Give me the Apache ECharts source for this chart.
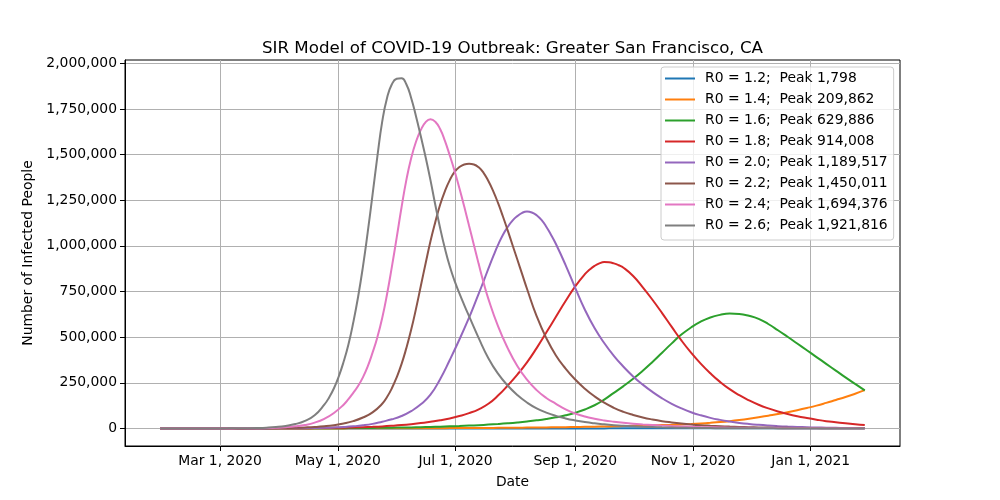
<!DOCTYPE html>
<html>
<head>
<meta charset="utf-8">
<script src="https://cdn.jsdelivr.net/npm/echarts@6/dist/echarts.min.js"></script>
<style>
html,body{margin:0;padding:0;background:#ffffff;}
#chart{width:1000px;height:500px;}
</style>
</head>
<body>
<div id="chart"></div>
<script>
// ---------------- data ----------------
const titleText = 'SIR Model of COVID-19 Outbreak: Greater San Francisco, CA';
const xAxisName = 'Date';
const yAxisName = 'Number of Infected People';
const startDate = '2020-01-30';   // day 0 of the simulation

const r0Values = [1.2, 1.4, 1.6, 1.8, 2.0, 2.2, 2.4, 2.6];
const peakValues = [1798, 209862, 629886, 914008, 1189517, 1450011, 1694376, 1921816];
const seriesColors = ['#1f77b4','#ff7f0e','#2ca02c','#d62728','#9467bd','#8c564b','#e377c2','#7f7f7f'];

// [day offset, infected people]
const curveR12 = [[0,30],[5,32],[10,34],[15,36],[20,38],[25,40],[30,42],[35,44],[40,47],[45,50],[50,53],[55,56],[60,59],[65,63],[70,67],[75,71],[80,75],[85,80],[90,85],[95,90],
  [100,95],[105,101],[110,107],[115,113],[120,120],[125,127],[130,135],[135,143],[140,151],[145,160],[150,170],[155,180],[160,190],[165,202],[170,214],[175,226],[180,240],[185,254],[190,269],[195,285],
  [200,302],[205,320],[210,339],[215,359],[220,380],[225,403],[230,427],[235,452],[240,479],[245,508],[250,538],[255,570],[260,604],[265,640],[270,678],[275,718],[280,761],[285,806],[290,854],[295,905],
  [300,959],[305,1016],[310,1077],[315,1141],[320,1209],[325,1281],[330,1357],[335,1438],[340,1523],[345,1614],[350,1700],[355,1760],[360,1790],[365,1798]];

const curveR14 = [[0,30],[5,35],[10,40],[15,46],[20,53],[25,61],[30,70],[35,80],[40,92],[45,106],[50,122],[55,140],[60,160],[65,185],[70,212],[75,244],[80,280],[85,322],[90,370],[95,425],
  [100,488],[105,560],[110,640],[115,735],[120,840],[125,960],[130,1100],[135,1250],[140,1420],[145,1610],[150,1820],[155,2060],[160,2320],[165,2610],[170,2930],[175,3290],[180,3690],[185,4130],[190,4620],[195,5160],
  [200,5750],[205,6400],[210,7120],[215,7900],[220,8750],[225,9700],[230,10700],[235,11800],[240,13000],[245,14300],[250,15700],[255,17000],[260,18500],[265,20100],[270,22000],[275,24500],[280,27500],[285,31000],[290,35000],[295,40000],
  [300,46000],[305,53000],[310,61000],[315,70000],[320,79000],[325,89000],[330,100000],[335,112000],[340,125000],[345,140000],[350,156000],[355,172000],[360,190000],[365,209862]];

const curveR16 = [[0,70],[5,83],[10,98],[15,116],[20,138],[25,164],[30,195],[35,232],[40,275],[45,326],[50,387],[55,460],[60,545],[65,647],[70,768],[75,910],[80,1080],[85,1280],[90,1520],[95,1800],
  [100,2140],[105,2530],[110,3000],[115,3550],[120,4200],[125,4980],[130,5900],[135,7000],[140,8300],[145,9800],[150,11500],[155,13400],[160,15600],[165,18100],[170,21000],[175,24300],[180,28200],[185,32800],[190,38200],[195,44500],
  [200,52000],[205,61000],[210,72000],[215,86000],[220,104000],[225,127000],[230,158000],[235,195000],[240,232000],[245,272000],[250,316000],[255,364000],[260,415000],[265,466000],[270,514000],[275,553000],[280,585000],[285,608000],[290,622000],[295,629000],
  [300,627000],[305,617000],[310,600000],[315,572000],[320,538000],[325,502000],[330,465000],[335,428000],[340,391000],[345,354000],[350,317000],[355,280000],[360,244000],[365,208500]];

const curveR18 = [[0,37],[5,47],[10,60],[15,77],[20,100],[25,128],[30,163],[35,210],[40,270],[45,345],[50,440],[55,565],[60,720],[65,920],[70,1180],[75,1500],[80,1950],[85,2500],[90,3200],[95,4100],
  [100,5300],[105,6800],[110,8700],[115,11200],[120,14500],[125,18500],[130,23500],[135,29500],[140,37000],[145,45000],[150,55000],[155,68000],[160,84000],[165,105000],[170,135000],[175,180000],[180,235000],[185,295000],[190,362000],[195,440000],
  [200,525000],[205,612000],[210,698000],[215,778000],[220,845000],[222.5,870000],[225,890000],[227.5,904000],[230,911000],[232.5,910000],[235,904000],[237.5,894000],[240,880000],[245,835000],[250,773000],[255,705000],[260,632000],[265,556000],[270,482000],[275,415000],
  [280,355000],[285,302000],[290,255000],[295,215000],[300,182000],[305,154000],[310,130000],[315,110000],[320,93000],[325,79000],[330,67000],[335,57000],[340,48000],[345,40000],[350,34000],[355,28000],[360,23000],[365,19000]];

const curveR20 = [[0,7],[5,10],[10,14],[15,21],[20,30],[25,44],[30,64],[35,93],[40,135],[45,195],[50,280],[55,410],[60,590],[65,860],[70,1250],[75,1800],[80,2600],[85,3800],[90,5500],[95,8000],
  [100,11700],[105,17000],[110,25000],[115,37000],[120,50000],[125,68000],[130,95000],[135,132000],[140,185000],[145,270000],[150,375000],[155,487000],[160,607000],[162.5,672000],[165,738000],[167.5,806000],[170,875000],[172.5,942000],[175,1005000],[177.5,1060000],
  [180,1103000],[182.5,1138000],[185,1163000],[187.5,1181000],[190,1188000],[192.5,1183000],[195,1168000],[197.5,1142000],[200,1105000],[202.5,1060000],[205,1010000],[210,895000],[215,770000],[220,650000],[225,550000],[230,468000],[235,398000],[240,338000],[245,285000],[250,240000],
  [255,200000],[260,165000],[265,135000],[270,110000],[275,89000],[280,72000],[285,58000],[290,47000],[295,38000],[300,30500],[305,24500],[310,19700],[315,15800],[320,12700],[325,10200],[330,8200],[335,6600],[340,5300],[345,4300],[350,3500],[355,2800],[360,2300],[365,1850]];

const curveR22 = [[0,14],[5,20],[10,30],[15,45],[20,67],[25,100],[30,150],[35,220],[40,330],[45,490],[50,730],[55,1100],[60,1600],[65,2400],[70,3600],[75,5400],[80,8000],[85,12000],[90,18000],[95,27000],
  [100,40000],[105,60000],[110,88000],[115,135000],[117.5,172000],[120,220000],[122.5,280000],[125,352000],[127.5,440000],[130,540000],[132.5,655000],[135,780000],[137.5,905000],[140,1025000],[142.5,1130000],[145,1225000],[147.5,1300000],[150,1360000],[152.5,1405000],[155,1432000],
  [157.5,1446000],[160,1450000],[162.5,1446000],[165,1430000],[167.5,1400000],[170,1355000],[172.5,1300000],[175,1235000],[177.5,1162000],[180,1085000],[182.5,1005000],[185,925000],[187.5,845000],[190,765000],[195,615000],[200,495000],[205,400000],[210,328000],[215,268000],[220,218000],
  [225,176000],[230,141000],[235,113000],[240,91000],[245,74000],[250,60000],[255,49000],[260,40000],[265,33000],[270,27000],[275,22000],[280,18000],[285,15000],[290,12500],[295,10300],[300,8500],[305,7000],[310,5800],[315,4800],[320,4000],
  [325,3300],[330,2700],[335,2250],[340,1850],[345,1550],[350,1280],[355,1060],[360,880],[365,730]];

const curveR24 = [[0,8],[5,13],[10,22],[15,38],[20,63],[25,105],[30,180],[35,300],[40,500],[45,850],[50,1400],[55,2400],[60,4000],[65,6800],[70,11500],[75,19000],[80,32000],[85,53000],[90,85000],[95,130000],
  [97.5,160000],[100,195000],[102.5,232000],[105,280000],[107.5,340000],[110,415000],[112.5,500000],[115,605000],[117.5,735000],[120,885000],[122.5,1045000],[125,1210000],[127.5,1360000],[130,1480000],[132.5,1570000],[135,1635000],[137.5,1678000],[140,1694000],[142.5,1680000],[145,1640000],
  [147.5,1575000],[150,1495000],[152.5,1410000],[155,1315000],[157.5,1215000],[160,1110000],[162.5,1005000],[165,900000],[167.5,800000],[170,710000],[175,560000],[180,440000],[185,342000],[190,267000],[195,210000],[200,167000],[205,135000],[210,105000],[215,82000],[220,65000],
  [225,53000],[230,44000],[235,37000],[240,31000],[245,26000],[250,22000],[255,18500],[260,15500],[265,13000],[270,11000],[275,9200],[280,7700],[285,6500],[290,5400],[295,4500],[300,3800],[305,3200],[310,2650],[315,2200],[320,1850],
  [325,1550],[330,1300],[335,1100],[340,900],[345,760],[350,640],[355,530],[360,450],[365,370]];

const curveR26 = [[0,10],[5,17],[10,30],[15,53],[20,92],[25,160],[30,280],[35,490],[40,850],[45,1500],[50,2600],[55,4500],[60,8000],[65,14000],[70,24000],[75,42000],[80,72000],[85,130000],[87.5,170000],[90,220000],
  [92.5,285000],[95,365000],[97.5,460000],[100,580000],[102.5,720000],[105,885000],[107.5,1075000],[110,1280000],[112.5,1490000],[115,1680000],[117.5,1810000],[120,1885000],[122.5,1915000],[125,1918000],[127.5,1885000],[130,1810000],[132.5,1710000],[135,1600000],[137.5,1485000],[140,1360000],
  [142.5,1225000],[145,1098000],[147.5,985000],[150,888000],[152.5,808000],[155,740000],[157.5,676000],[160,615000],[165,495000],[170,385000],[175,300000],[180,235000],[185,183000],[190,142000],[195,110000],[200,87000],[205,69000],[210,55000],[215,44000],[220,35000],
  [225,28000],[230,22500],[235,18000],[240,14500],[245,11700],[250,9400],[255,7600],[260,6100],[265,4900],[270,3900],[275,3100],[280,2500],[285,2000],[290,1600],[295,1300],[300,1000],[305,800],[310,650],[315,520],[320,420],
  [325,340],[330,270],[335,220],[340,175],[345,140],[350,110],[355,90],[360,72],[365,58]];

const xTickDates = ['2020-03-01','2020-05-01','2020-07-01','2020-09-01','2020-11-01','2021-01-01'];
const xTickLabels = ['Mar 1, 2020','May 1, 2020','Jul 1, 2020','Sep 1, 2020','Nov 1, 2020','Jan 1, 2021'];
const yTickValues = [0,250000,500000,750000,1000000,1250000,1500000,1750000,2000000];

// ---------------- build ----------------
const DAY = 86400000;
const toTs = s => Date.parse(s + 'T00:00:00Z');
const t0 = toTs(startDate);
const curves = [curveR12, curveR14, curveR16, curveR18, curveR20, curveR22, curveR24, curveR26];
const xTickTs = xTickDates.map(toTs);
const tFirst = t0 + curves[0][0][0] * DAY;
const tLast = t0 + curves[0][curves[0].length - 1][0] * DAY;
const xPad = (tLast - tFirst) * 0.05;
const yMaxData = Math.max.apply(null, peakValues);
const yPad = yMaxData * 0.05;

const font = 'DejaVu Sans';
const names = r0Values.map((r, i) => 'R0 = ' + r.toFixed(1) + ';  Peak ' + peakValues[i].toLocaleString('en-US'));

const series = curves.map((curve, i) => ({
  type: 'line',
  name: names[i],
  data: curve.map(p => [t0 + p[0] * DAY, p[1]]),
  showSymbol: false,
  symbol: 'none',
  smooth: 0.5,
  lineStyle: { width: 2, color: seriesColors[i] },
  itemStyle: { color: seriesColors[i] },
  emphasis: { disabled: true },
  z: 3 + i
}));

const chart = echarts.init(document.getElementById('chart'), null, { renderer: 'canvas' });
chart.setOption({
  animation: false,
  backgroundColor: '#ffffff',
  title: {
    text: titleText,
    left: 507.5,
    top: 35,
    textAlign: 'center',
    textStyle: { fontFamily: font, fontSize: 16.7, fontWeight: 'normal', color: '#000000' }
  },
  legend: {
    orient: 'vertical',
    left: 661,
    top: 67,
    backgroundColor: 'rgba(255,255,255,0.8)',
    borderColor: '#cccccc',
    borderWidth: 1,
    borderRadius: 3,
    padding: [1, 6, 4, 4],
    itemGap: 0,
    itemWidth: 30,
    itemHeight: 2,
    icon: 'rect',
    data: names,
    textStyle: { fontFamily: font, fontSize: 13.9, color: '#000000', lineHeight: 21, padding: [0, 0, 0, 5] }
  },
  grid: {
    left: 125, right: 100, top: 60, bottom: 54,
    show: true, borderColor: '#000000', borderWidth: 1, backgroundColor: 'transparent',
    containLabel: false
  },
  xAxis: {
    type: 'value',
    min: tFirst - xPad,
    max: tLast + xPad,
    name: xAxisName,
    nameLocation: 'middle',
    nameGap: 29,
    nameTextStyle: { fontFamily: font, fontSize: 13.9, color: '#000000' },
    axisLine: { show: true, onZero: false, lineStyle: { color: '#000000', width: 1 } },
    axisTick: { show: true, customValues: xTickTs, length: 5, lineStyle: { color: '#000000', width: 1 } },
    axisLabel: {
      customValues: xTickTs,
      margin: 8,
      color: '#000000',
      fontFamily: font,
      fontSize: 13.9,
      formatter: function (v) {
        for (let k = 0; k < xTickTs.length; k++) {
          if (Math.abs(xTickTs[k] - v) < DAY / 2) return xTickLabels[k];
        }
        return '';
      }
    },
    splitLine: { show: true, lineStyle: { color: '#b0b0b0', width: 1 } }
  },
  yAxis: {
    type: 'value',
    min: -yPad,
    max: yMaxData + yPad,
    name: yAxisName,
    nameLocation: 'middle',
    nameGap: 82,
    nameTextStyle: { fontFamily: font, fontSize: 13.9, color: '#000000' },
    axisLine: { show: true, onZero: false, lineStyle: { color: '#000000', width: 1 } },
    axisTick: { show: true, customValues: yTickValues, length: 5, lineStyle: { color: '#000000', width: 1 } },
    axisLabel: {
      customValues: yTickValues,
      margin: 8,
      color: '#000000',
      fontFamily: font,
      fontSize: 13.9,
      formatter: function (v) { return Math.round(v).toLocaleString('en-US'); }
    },
    splitLine: { show: true, lineStyle: { color: '#b0b0b0', width: 1 } }
  },
  series: series
});
</script>
</body>
</html>
